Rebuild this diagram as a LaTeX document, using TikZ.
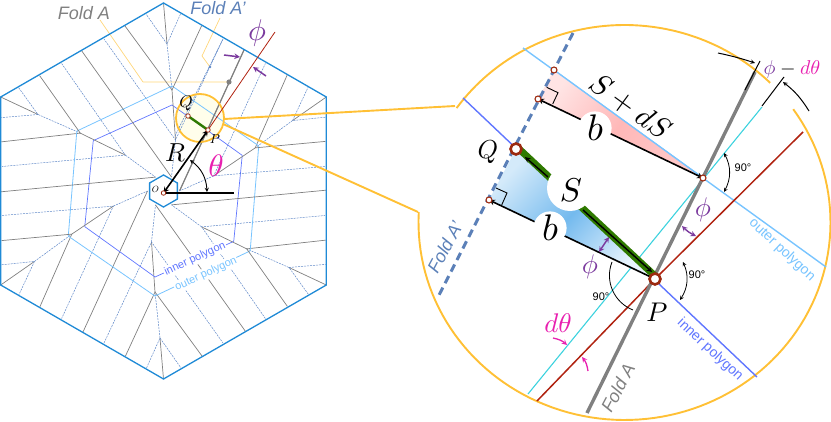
\documentclass[tikz,border=0pt]{standalone}
\usepackage{fontspec}
\setsansfont{Liberation Sans}
\usetikzlibrary{calc}
\definecolor{hexblue}{HTML}{1F8AD6}
\definecolor{creaseblue}{HTML}{5F88C8}
\definecolor{outerblue}{HTML}{78C4FF}
\definecolor{innerblue}{HTML}{6076FF}
\definecolor{callout}{HTML}{FFC035}
\definecolor{leader}{HTML}{FFD67A}
\definecolor{foldgray}{HTML}{808080}
\definecolor{foldblue}{HTML}{5B80B8}
\definecolor{redline}{HTML}{B02210}
\definecolor{cyanline}{HTML}{3CD2DE}
\definecolor{markbrown}{HTML}{9C2A10}
\definecolor{stripgreen}{HTML}{2F7A00}
\definecolor{anglepurple}{HTML}{7B3A9E}
\definecolor{anglepink}{HTML}{E820B0}
\definecolor{pinka}{HTML}{FFE4E4}
\definecolor{pinkb}{HTML}{FFB8B8}
\definecolor{pinkc}{HTML}{FFC8C8}
\definecolor{bluea}{HTML}{D4EAFA}
\definecolor{blueb}{HTML}{74BAEE}
\definecolor{bluec}{HTML}{E8F4FD}
\tikzset{
    crease/.style = {foldgray, line width = 0.7pt},
    creasedash/.style = {creaseblue, line width = 0.5pt, dash pattern = on 2pt off 1pt},
    hexline/.style = {hexblue, line width = 1.3pt, line cap = round},
    pointmark/.style = {circle, draw = markbrown, fill = white, line width = 1.1pt, inner sep = 0pt, minimum size = 6pt},
    bigmark/.style = {pointmark, line width = 2.6pt, minimum size = 11pt},
    foldlabel/.style = {font = \sffamily\itshape\fontsize{18}{18}\selectfont},
    polylabel/.style = {font = \sffamily\fontsize{#1}{#1}\selectfont},
    deglabel/.style = {font = \sffamily\fontsize{11}{11}\selectfont, inner sep = 0pt},
    anglearrow/.style = {anglepurple, line width = 1.4pt, stealth-stealth}
}
\begin{document}
\begin{tikzpicture}[x = 1pt, y = -1pt]
    \useasboundingbox (0, 0) rectangle (831, 422);

    \coordinate (C) at (163.5, 191);
    \coordinate (O) at (163.5, 193);
    \coordinate (p) at (208, 130);
    \coordinate (q) at (188, 116);
    \fill[yellow!8] (200, 118) circle (24);

    \draw[leader, line width = 0.7pt] (100, 20) -- (143, 82) -- (229, 82);
    \draw[leader, line width = 0.7pt] (220, 18) -- (202, 56) -- (210, 67);

    \foreach \a in {0, 60, ..., 300}{
        \begin{scope}[shift = {(C)}, rotate = \a]
            \draw[crease] (0, 188) -- (-3.5, 147);
            \draw[creasedash] (-17, 177) -- (-3.5, 147) -- (17.5, 177);
            \draw[creasedash] (-3.5, 147) -- (-8.5, 101);
            \draw[crease] (-38, 165) -- (-8.5, 101) -- (38.5, 165);
            \draw[crease] (-8.5, 101) -- (-12, 51);
            \draw[creasedash] (-12, 51) -- (-8, 14);
            \draw[creasedash] (-59.5, 152) -- (-12, 51) -- (59.5, 152);
            \draw[crease] (-16, 0) -- (-80.5, 141);
            \draw[outerblue, line width = 0.8pt] (-8.5, 105) -- (86.7, 59.9);
            \draw[innerblue, line width = 0.7pt] (-8.5, 86) -- (70.2, 50.4);
        \end{scope}
    }

    \draw[foldgray, line width = 1.2pt] (180, 190) -- (244, 50);
    \draw[creaseblue, line width = 0.6pt, dash pattern = on 2pt off 1pt] (175, 136) -- (223, 39);
    \fill[foldgray] (229, 82) circle (2.6);
    \fill[creaseblue] (210, 67) circle (1.3);

    \node[polylabel = 11, innerblue, fill = white, inner sep = 1pt, rotate = 25] (innerlabel) at (195, 259) {inner polygon};
    \node[polylabel = 11, outerblue, fill = white, inner sep = 1pt, rotate = 25] (outerlabel) at (206, 274) {outer polygon};

    \foreach \a in {0, 60, ..., 300}{
        \begin{scope}[shift = {(C)}, rotate = \a]
            \draw[hexline] (0, 188) -- (162.8, 94);
            \draw[hexline] (0, 16) -- (13.9, 8);
        \end{scope}
    }

    \draw[callout, line width = 1.8pt] (200, 118) circle (24);
    \draw[stripgreen, line width = 2.4pt] (q) -- (p);
    \draw[redline, line width = 0.8pt] (p) -- (275, 32);
    \draw[line width = 1.6pt] (O) -- (234, 193);
    \draw[line width = 1.6pt, stealth-stealth] (O) -- (p);
    \draw[stealth-stealth, line width = 0.9pt] (190, 160) to[bend left = 25] (207, 192);
    \node[pointmark, minimum size = 4.5pt, line width = 0.8pt] (markq) at (q) {};
    \node[pointmark, minimum size = 4.5pt, line width = 0.8pt] (markp) at (p) {};
    \node[pointmark, minimum size = 4.5pt, line width = 0.8pt] (marko) at (O) {};

    \draw[anglepurple, line width = 1.5pt, -stealth] (224, 55) -- (240, 57);
    \draw[anglepurple, line width = 1.5pt, -stealth] (266, 76) -- (253, 67);

    \node[foldlabel, foldgray] (folda) at (84, 13) {Fold A};
    \node[foldlabel, foldblue] (foldb) at (218, 8) {Fold A'};
    \node[anglepurple, scale = 3] (phismall) at (257, 33) {$\phi$};
    \node[anglepink, scale = 3.1] (theta) at (216, 166) {$\theta$};
    \node[scale = 2.6] (rlabel) at (175, 153) {$R$};
    \node[scale = 0.9] (olabel) at (155.5, 189.5) {$O$};
    \node[scale = 1.7] (qlabel) at (186, 103) {$Q$};
    \node[scale = 1.3] (plabel) at (215, 139) {$P$};

    \draw[callout, line width = 1.9pt] (224, 119) -- (455, 106)
        plot[domain = -144.6:-45, samples = 60] ({624.5 + 206*cos(\x)}, {222.5 + 197.5*sin(\x)});
    \draw[callout, line width = 1.9pt] (223, 124) -- (418, 212)
        plot[domain = -35:183, samples = 100] ({624.5 + 206*cos(\x)}, {222.5 + 197.5*sin(\x)});

    \coordinate (P) at (655, 279);
    \coordinate (Q) at (516, 149);
    \coordinate (Pn) at (703, 178);
    \coordinate (T) at (554, 70);
    \coordinate (Fa) at (538, 99);
    \coordinate (Fb) at (489, 200);

    \draw[innerblue, line width = 1.4pt] (463, 98) -- (757, 377);
    \draw[outerblue, line width = 1.4pt] (523, 48) -- (826, 267);
    \draw[cyanline, line width = 1.1pt] (762, 107) -- (528, 394);
    \draw[redline, line width = 1.5pt] (803, 132) -- (P) -- (537, 401);

    \shade[left color = pinka, right color = pinkc, middle color = pinkb, shading angle = 54] (T) -- (Fa) -- (Pn) -- cycle;
    \shade[left color = bluea, right color = bluec, middle color = blueb, shading angle = 47] (Q) -- (Fb) -- (P) -- cycle;
    \draw[outerblue, line width = 1.4pt] (T) -- (Pn);

    \draw[foldgray, line width = 3.4pt] (755, 72) -- (587, 413);
    \draw[foldblue, line width = 3pt, dash pattern = on 8pt off 5pt] (573, 33) -- (437, 299);

    \draw[stripgreen, line width = 7pt, line cap = round] ($(Q) + (1.5, -1.5)$) -- ($(P) + (0, -3)$);
    \fill[white] (570, 188) circle (23);
    \draw[line width = 1.4pt, -stealth] (548, 177) -- (525, 157);
    \draw[line width = 1.4pt, -stealth] (583, 210) -- (652, 272);

    \draw[line width = 1.6pt, stealth-stealth] (Fa) -- (Pn);
    \draw[line width = 1.6pt, stealth-stealth] (Fb) -- (P);
    \draw[line width = 0.9pt] (546.7, 87.3) -- (558, 92.7) -- (552.7, 104);
    \draw[line width = 0.9pt] (496, 188) -- (507, 193) -- (501.7, 205);

    \node[circle, fill = white, inner sep = 0.3pt, scale = 3.7] (bup) at (595, 128) {$b$};
    \node[circle, fill = white, inner sep = 0.3pt, scale = 3.7] (blow) at (550, 228) {$b$};

    \draw[stealth-stealth, line width = 0.8pt] (724, 153) to[bend left = 28] (724, 192);
    \draw[stealth-stealth, line width = 0.8pt] (683, 262) to[bend left = 28] (680, 300);
    \draw[line width = 0.8pt] (612, 262) to[bend right = 45] (633, 310);
    \node[deglabel] (dega) at (743, 168) {90°};
    \node[deglabel] (degb) at (697, 275) {90°};
    \node[deglabel] (degc) at (601, 297) {90°};

    \draw[anglearrow] (682, 226) to[bend right = 10] (696, 236);
    \draw[anglearrow] (609, 237) -- (599, 252);
    \draw[anglepink, line width = 1.3pt, -stealth] (553, 338) to[bend left = 15] (567, 345);
    \draw[anglepink, line width = 1.3pt, -stealth] (588, 371) to[bend right = 15] (582, 357);

    \draw[line width = 1pt] (760, 61) -- (745, 90);
    \draw[line width = 1pt] (762, 106) -- (784, 77);
    \draw[line width = 1pt, -stealth] (718, 53) to[bend left = 3] (755, 63);
    \draw[line width = 1pt, -stealth] (809, 111) to[bend right = 10] (783, 82);

    \node[pointmark] (markt) at (T) {};
    \node[pointmark] (markfa) at (Fa) {};
    \node[pointmark] (markfb) at (Fb) {};
    \node[pointmark] (markpn) at (Pn) {};
    \node[bigmark] (markP) at (P) {};
    \node[bigmark] (markQ) at (Q) {};

    \node[scale = 3.3] (slabel) at (571, 190) {$S$};
    \node[scale = 3, rotate = -36] (dslabel) at (630, 107) {$S + dS$};
    \node[scale = 2.6] (Qlabel) at (488, 152) {$Q$};
    \node[scale = 2.7] (Plabel) at (657, 312) {$P$};
    \node[anglepink, scale = 2.7] (dtheta) at (558, 323) {$d\theta$};
    \node[anglepurple, scale = 2.7] (phia) at (703, 210) {$\phi$};
    \node[anglepurple, scale = 2.7] (phib) at (590, 267) {$\phi$};
    \node[scale = 2] (phidtheta) at (792, 70) {$\textcolor{anglepurple}{\phi} - \textcolor{anglepink}{d\theta}$};
    \node[foldlabel, foldgray, rotate = 62] (foldaa) at (618, 388) {Fold A};
    \node[foldlabel, foldblue, rotate = 62] (foldbb) at (445, 247) {Fold A'};
    \node[polylabel = 14, outerblue, rotate = -43] (outerbig) at (782, 250) {outer polygon};
    \node[polylabel = 14, innerblue, rotate = -43] (innerbig) at (710, 350) {inner polygon};
\end{tikzpicture}
\end{document}
